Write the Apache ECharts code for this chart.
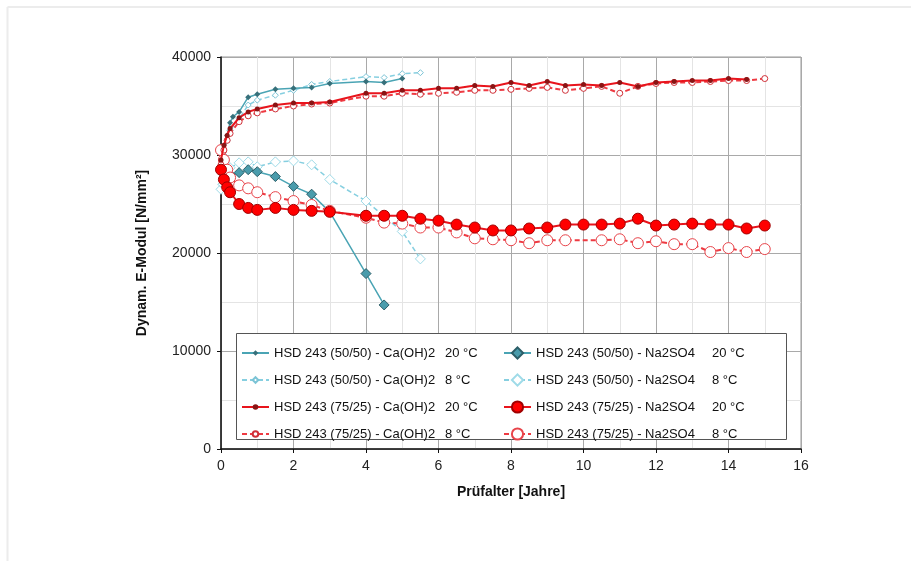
<!DOCTYPE html>
<html>
<head>
<meta charset="utf-8">
<script src="https://cdn.jsdelivr.net/npm/echarts@6/dist/echarts.min.js"></script>
<style>html,body{margin:0;padding:0;background:#fff;}#c{width:911px;height:561px;}</style>
</head>
<body>
<div id="c"></div>
<script>
// ---------- DATA ----------
const xTicks = [0, 2, 4, 6, 8, 10, 12, 14, 16];
const yTicks = [0, 10000, 20000, 30000, 40000];

// HSD 243 (50/50) - Ca(OH)2 20 °C
const t_50_ca_20 = [0, 0.08, 0.17, 0.25, 0.33, 0.5, 0.75, 1, 1.5, 2, 2.5, 3, 4, 4.5, 5];
const e_50_ca_20 = [28500, 30500, 32000, 33300, 33900, 34400, 35900, 36200, 36700, 36800, 36900, 37300, 37500, 37400, 37800];
// HSD 243 (50/50) - Ca(OH)2 8 °C
const t_50_ca_8 = [0, 0.08, 0.17, 0.25, 0.5, 0.75, 1, 1.5, 2, 2.5, 3, 4, 4.5, 5, 5.5];
const e_50_ca_8 = [27000, 30000, 31500, 32500, 33700, 35100, 35600, 36100, 36600, 37200, 37500, 38000, 37900, 38300, 38400];
// HSD 243 (50/50) - Na2SO4 20 °C
const t_50_na_20 = [0, 0.08, 0.25, 0.5, 0.75, 1, 1.5, 2, 2.5, 3, 4, 4.5];
const e_50_na_20 = [28500, 28000, 28000, 28200, 28500, 28300, 27800, 26800, 26000, 24200, 17900, 14700];
// HSD 243 (50/50) - Na2SO4 8 °C
const t_50_na_8 = [0, 0.25, 0.5, 0.75, 1, 1.5, 2, 2.5, 3, 4, 5, 5.5];
const e_50_na_8 = [26500, 28700, 29200, 29300, 28800, 29300, 29400, 29000, 27500, 25300, 22200, 19400];
// HSD 243 (75/25) - Ca(OH)2 20 °C
const t_75_ca_20 = [0, 0.08, 0.17, 0.25, 0.5, 0.75, 1, 1.5, 2, 2.5, 3, 4, 4.5, 5, 5.5, 6, 6.5, 7, 7.5, 8, 8.5, 9, 9.5, 10, 10.5, 11, 11.5, 12, 12.5, 13, 13.5, 14, 14.5];
const e_75_ca_20 = [29500, 31000, 32000, 32700, 33800, 34400, 34700, 35100, 35300, 35300, 35400, 36300, 36300, 36600, 36600, 36800, 36800, 37100, 37000, 37400, 37100, 37500, 37100, 37200, 37100, 37400, 37000, 37400, 37500, 37600, 37600, 37800, 37700];
// HSD 243 (75/25) - Ca(OH)2 8 °C
const t_75_ca_8 = [0, 0.08, 0.17, 0.25, 0.5, 0.75, 1, 1.5, 2, 2.5, 3, 4, 4.5, 5, 5.5, 6, 6.5, 7, 7.5, 8, 8.5, 9, 9.5, 10, 10.5, 11, 11.5, 12, 12.5, 13, 13.5, 14, 14.5, 15];
const e_75_ca_8 = [29000, 30500, 31500, 32200, 33400, 34000, 34300, 34700, 35000, 35200, 35300, 36000, 36000, 36300, 36200, 36300, 36400, 36600, 36600, 36700, 36800, 36900, 36600, 36800, 37000, 36300, 37000, 37300, 37400, 37400, 37500, 37600, 37600, 37800];
// HSD 243 (75/25) - Na2SO4 20 °C
const t_75_na_20 = [0, 0.08, 0.17, 0.25, 0.5, 0.75, 1, 1.5, 2, 2.5, 3, 4, 4.5, 5, 5.5, 6, 6.5, 7, 7.5, 8, 8.5, 9, 9.5, 10, 10.5, 11, 11.5, 12, 12.5, 13, 13.5, 14, 14.5, 15];
const e_75_na_20 = [28500, 27500, 26700, 26200, 25000, 24600, 24400, 24600, 24400, 24300, 24200, 23800, 23800, 23800, 23500, 23300, 22900, 22600, 22300, 22300, 22500, 22600, 22900, 22900, 22900, 23000, 23500, 22800, 22900, 23000, 22900, 22900, 22500, 22800];
// HSD 243 (75/25) - Na2SO4 8 °C
const t_75_na_8 = [0, 0.08, 0.17, 0.25, 0.5, 0.75, 1, 1.5, 2, 2.5, 3, 4, 4.5, 5, 5.5, 6, 6.5, 7, 7.5, 8, 8.5, 9, 9.5, 10.5, 11, 11.5, 12, 12.5, 13, 13.5, 14, 14.5, 15];
const e_75_na_8 = [30500, 29500, 28500, 27700, 26900, 26600, 26200, 25700, 25300, 24900, 24300, 23600, 23100, 23000, 22600, 22600, 22100, 21500, 21400, 21300, 21000, 21300, 21300, 21300, 21400, 21000, 21200, 20900, 20900, 20100, 20500, 20100, 20400];

const names = {
  c50_20: 'HSD 243 (50/50) - Ca(OH)2|20 °C',
  c50_8:  'HSD 243 (50/50) - Ca(OH)2|8 °C',
  c75_20: 'HSD 243 (75/25) - Ca(OH)2|20 °C',
  c75_8:  'HSD 243 (75/25) - Ca(OH)2|8 °C',
  n50_20: 'HSD 243 (50/50) - Na2SO4|20 °C',
  n50_8:  'HSD 243 (50/50) - Na2SO4|8 °C',
  n75_20: 'HSD 243 (75/25) - Na2SO4|20 °C',
  n75_8:  'HSD 243 (75/25) - Na2SO4|8 °C'
};

function pairs(t, e) { return t.map((v, i) => [v, e[i]]); }

const TEAL = '#4aa4b4', CYAN = '#86cfe0', RED = '#e8141c', RED2 = '#ee3a42';

function mk(name, t, e, o) {
  return {
    name: name, type: 'line', data: pairs(t, e),
    symbol: o.symbol, symbolSize: o.size,
    lineStyle: { color: o.line, width: o.lw, type: o.dash ? [5, 3] : 'solid' },
    itemStyle: { color: o.fill, borderColor: o.border, borderWidth: o.bw },
    z: o.z, animation: false, emphasis: { disabled: true }
  };
}

const series = [
  mk(names.n50_8, t_50_na_8, e_50_na_8, { symbol: 'diamond', size: 10, line: CYAN, lw: 1.5, dash: true, fill: '#fff', border: '#9fdbe8', bw: 1, z: 2 }),
  mk(names.c50_8, t_50_ca_8, e_50_ca_8, { symbol: 'diamond', size: 6, line: CYAN, lw: 1.5, dash: true, fill: '#fff', border: '#7cc4d6', bw: 1, z: 2 }),
  mk(names.n50_20, t_50_na_20, e_50_na_20, { symbol: 'diamond', size: 10, line: TEAL, lw: 1.5, dash: false, fill: '#4a9cac', border: '#2c5e68', bw: 1, z: 3 }),
  mk(names.c50_20, t_50_ca_20, e_50_ca_20, { symbol: 'diamond', size: 6, line: TEAL, lw: 1.5, dash: false, fill: '#37707a', border: '#37707a', bw: 0, z: 3 }),
  mk(names.n75_8, t_75_na_8, e_75_na_8, { symbol: 'circle', size: 11, line: RED2, lw: 2, dash: true, fill: '#fff', border: '#e8444a', bw: 1, z: 4 }),
  mk(names.c75_8, t_75_ca_8, e_75_ca_8, { symbol: 'circle', size: 6, line: RED2, lw: 2, dash: true, fill: '#fff', border: '#d03038', bw: 1, z: 4 }),
  mk(names.c75_20, t_75_ca_20, e_75_ca_20, { symbol: 'circle', size: 5, line: RED, lw: 2, dash: false, fill: '#8a1414', border: '#8a1414', bw: 0, z: 5 }),
  mk(names.n75_20, t_75_na_20, e_75_na_20, { symbol: 'circle', size: 11, line: RED, lw: 2, dash: false, fill: '#ff0000', border: '#a00000', bw: 1, z: 5 })
];

function legendFmt() {
  return function (n) { const p = n.split('|'); return '{a|' + p[0] + '}{b|' + p[1] + '}'; };
}
const legTextBase = { fontFamily: 'Liberation Sans, Arial, sans-serif', fontSize: 13, color: '#111', lineHeight: 16 };

const chart = echarts.init(document.getElementById('c'), null, { renderer: 'canvas' });
chart.setOption({
  backgroundColor: '#fff',
  animation: false,
  graphic: [
    { type: 'line', shape: { x1: 7.5, y1: 7, x2: 911, y2: 7 }, style: { stroke: '#ececec', lineWidth: 2 }, silent: true },
    { type: 'line', shape: { x1: 7.5, y1: 7, x2: 7.5, y2: 561 }, style: { stroke: '#ececec', lineWidth: 2 }, silent: true },
    { type: 'rect', shape: { x: 236.5, y: 333.5, width: 550, height: 106 }, style: { fill: '#fff', stroke: '#555', lineWidth: 1 }, z: 50, silent: true }
  ],
  grid: { left: 221, top: 57, right: 110, bottom: 112, show: true, borderColor: '#999', borderWidth: 1, backgroundColor: 'transparent' },
  legend: [
    {
      orient: 'vertical', left: 236, top: 340, itemWidth: 27, itemHeight: 7, itemGap: 11,
      data: [names.c50_20, names.c50_8, names.c75_20, names.c75_8],
      formatter: legendFmt(),
      textStyle: Object.assign({}, legTextBase, { rich: { a: Object.assign({}, legTextBase, { width: 171 }), b: legTextBase } }),
      selectedMode: false, z: 60
    },
    {
      orient: 'vertical', left: 498, top: 340, itemWidth: 27, itemHeight: 14, itemGap: 11,
      data: [names.n50_20, names.n50_8, names.n75_20, names.n75_8],
      formatter: legendFmt(),
      textStyle: Object.assign({}, legTextBase, { rich: { a: Object.assign({}, legTextBase, { width: 176 }), b: legTextBase } }),
      selectedMode: false, z: 60
    }
  ],
  xAxis: {
    type: 'value', min: xTicks[0], max: xTicks[xTicks.length - 1], interval: 2,
    name: 'Prüfalter [Jahre]', nameLocation: 'middle', nameGap: 36,
    nameTextStyle: { fontFamily: 'Liberation Sans, Arial, sans-serif', fontSize: 14, fontWeight: 'bold', color: '#111' },
    axisLine: { show: true, onZero: false, lineStyle: { color: '#111', width: 1.5 } },
    axisTick: { show: true, length: 4, lineStyle: { color: '#111' } },
    axisLabel: { fontFamily: 'Liberation Sans, Arial, sans-serif', fontSize: 14, color: '#222', margin: 10, formatter: v => String(v) },
    splitLine: { show: true, lineStyle: { color: '#a9a9a9', width: 1 } },
    minorTick: { show: false, splitNumber: 2 },
    minorSplitLine: { show: true, lineStyle: { color: '#e4e4e4', width: 1 } }
  },
  yAxis: {
    type: 'value', min: yTicks[0], max: yTicks[yTicks.length - 1], interval: 10000,
    name: 'Dynam. E-Modul [N/mm²]', nameLocation: 'middle', nameGap: 72,
    nameTextStyle: { fontFamily: 'Liberation Sans, Arial, sans-serif', fontSize: 14, fontWeight: 'bold', color: '#111' },
    axisLine: { show: true, lineStyle: { color: '#111', width: 1.5 } },
    axisTick: { show: true, length: 4, lineStyle: { color: '#111' } },
    axisLabel: { fontFamily: 'Liberation Sans, Arial, sans-serif', fontSize: 14, color: '#222', margin: 10, formatter: v => String(v) },
    splitLine: { show: true, lineStyle: { color: '#a9a9a9', width: 1 } },
    minorTick: { show: false, splitNumber: 2 },
    minorSplitLine: { show: true, lineStyle: { color: '#e4e4e4', width: 1 } }
  },
  series: series
});
</script>
</body>
</html>
